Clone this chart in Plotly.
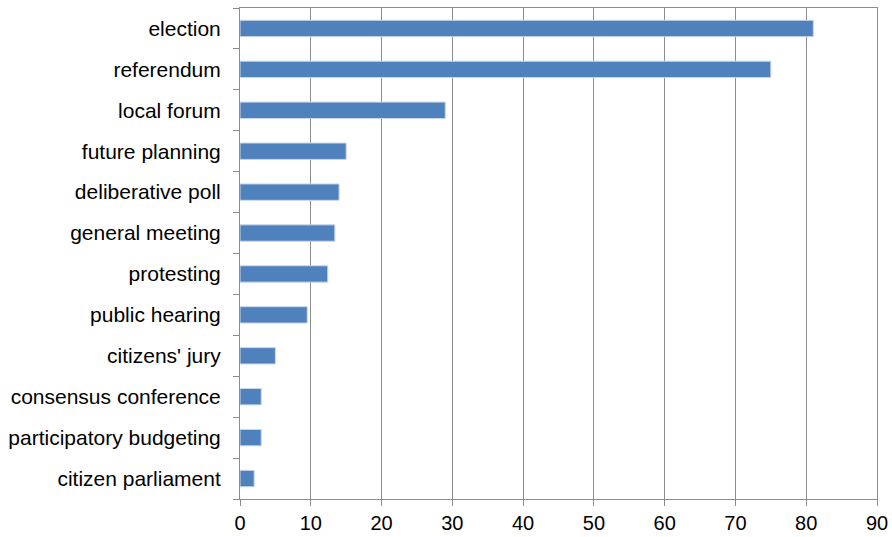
import plotly.graph_objects as go

categories = [
    "election", "referendum", "local forum", "future planning",
    "deliberative poll", "general meeting", "protesting", "public hearing",
    "citizens' jury", "consensus conference", "participatory budgeting",
    "citizen parliament",
]
values = [81, 75, 29, 15, 14, 13.4, 12.4, 9.5, 5, 3, 3, 2]
x_ticks = [0, 10, 20, 30, 40, 50, 60, 70, 80, 90]

grid = "#8c8c8c"

fig = go.Figure(
    go.Bar(
        x=values,
        y=categories,
        orientation="h",
        marker=dict(color="#4F81BD", line=dict(color="#c9d7ea", width=1)),
    )
)

fig.update_layout(
    width=892,
    height=537,
    margin=dict(l=240, r=15, t=8, b=38),
    plot_bgcolor="white",
    paper_bgcolor="white",
    bargap=0.6,
    showlegend=False,
    font=dict(family="Liberation Sans, Arial, sans-serif", size=20, color="#000000"),
    xaxis=dict(
        range=[0, 90],
        tickvals=x_ticks,
        ticktext=[str(t) for t in x_ticks],
        showgrid=True,
        gridcolor=grid,
        gridwidth=1,
        zeroline=False,
        showline=True,
        linecolor=grid,
        linewidth=1,
        mirror=True,
        ticks="outside",
        ticklen=6,
        tickcolor=grid,
        ticklabelstandoff=0,
        automargin=False,
        fixedrange=True,
    ),
    yaxis=dict(
        categoryorder="array",
        categoryarray=categories[::-1],
        showline=True,
        linecolor=grid,
        linewidth=1,
        mirror=True,
        ticks="outside",
        tickson="boundaries",
        ticklen=6,
        tickcolor=grid,
        ticklabelstandoff=14,
        tickfont=dict(size=21),
        automargin=False,
        showgrid=False,
        fixedrange=True,
    ),
)

fig.write_html("out.html")
